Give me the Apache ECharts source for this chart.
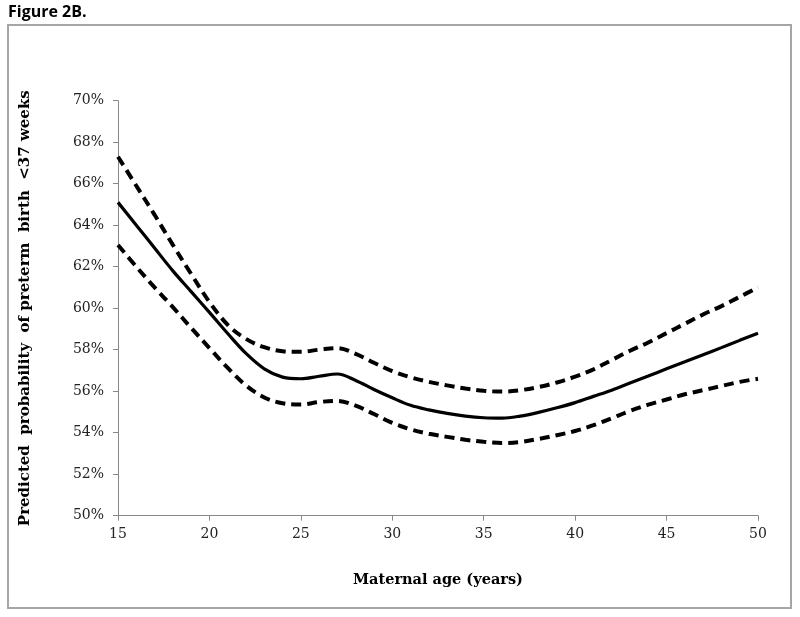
<!DOCTYPE html>
<html>
<head>
<meta charset="utf-8">
<script src="https://cdn.jsdelivr.net/npm/echarts@6/dist/echarts.min.js"></script>
<style>
html,body{margin:0;padding:0;background:#fff;}
#chart{width:800px;height:617px;}
</style>
</head>
<body>
<div id="chart"></div>
<script>
var ages = [15,16,17,18,19,20,21,22,23,24,25,26,27,28,29,30,31,32,33,34,35,36,37,38,39,40,41,42,43,44,45,46,47,48,49,50];
var predicted = [65.1,64.0,62.9,61.8,60.8,59.8,58.78,57.82,57.08,56.68,56.6,56.72,56.83,56.52,56.08,55.68,55.32,55.1,54.93,54.8,54.72,54.7,54.8,54.98,55.2,55.45,55.75,56.05,56.39,56.73,57.08,57.42,57.76,58.1,58.45,58.79];
var upperCI = [67.3,65.9,64.5,63.05,61.65,60.3,59.2,58.52,58.12,57.93,57.9,58.0,58.08,57.8,57.37,56.97,56.67,56.45,56.28,56.13,56.02,55.98,56.05,56.2,56.42,56.7,57.05,57.5,57.95,58.35,58.8,59.25,59.7,60.1,60.55,61.0];
var lowerCI = [63.05,62.0,61.0,60.05,59.05,58.08,57.12,56.28,55.7,55.42,55.36,55.48,55.53,55.3,54.9,54.47,54.16,53.95,53.8,53.66,53.56,53.5,53.55,53.7,53.88,54.08,54.36,54.7,55.05,55.35,55.6,55.85,56.05,56.25,56.45,56.6];
var xTicks = {min: 15, max: 50, interval: 5};
var yTicks = {min: 50, max: 70, interval: 2};

function pairs(vals){ return ages.map(function(a,i){ return [a, vals[i]]; }); }

var chart = echarts.init(document.getElementById('chart'), null, {renderer:'canvas'});
var serif = '"DejaVu Serif", "Liberation Serif", serif';
chart.setOption({
  animation: false,
  backgroundColor: '#fff',
  graphic: [
    {type:'rect', shape:{x:8, y:25, width:783, height:583}, style:{fill:'none', stroke:'#a6a6a6', lineWidth:2}, z:0},
    {type:'text', left:8, top:4, style:{text:'Figure 2B.', fontFamily:'"Open Sans", "Liberation Sans", sans-serif', fontWeight:'bold', fontSize:16, fill:'#000'}}
  ],
  grid: {left:118, right:42, top:100.7, bottom:101.3, containLabel:false},
  xAxis: {
    type:'value', min:xTicks.min, max:xTicks.max, interval:xTicks.interval,
    name:'Maternal age (years)', nameLocation:'middle', nameGap:57,
    nameTextStyle:{fontFamily:serif, fontWeight:'bold', fontSize:14.5, color:'#000'},
    axisLine:{lineStyle:{color:'#888', width:1}},
    axisTick:{show:true, length:5, lineStyle:{color:'#888'}},
    axisLabel:{fontFamily:serif, fontSize:14, color:'#222', margin:12},
    splitLine:{show:false}
  },
  yAxis: {
    type:'value', min:yTicks.min, max:yTicks.max, interval:yTicks.interval,
    name:'Predicted  probability  of preterm  birth  <37 weeks', nameLocation:'middle', nameGap:85, nameRotate:90,
    nameTextStyle:{fontFamily:serif, fontWeight:'bold', fontSize:15, color:'#000'},
    axisLine:{show:true, lineStyle:{color:'#888', width:1}},
    axisTick:{show:true, length:5, lineStyle:{color:'#888'}},
    axisLabel:{fontFamily:serif, fontSize:14, color:'#222', margin:14, formatter:'{value}%'},
    splitLine:{show:false}
  },
  series: [
    {type:'line', data:pairs(upperCI), smooth:0.35, symbol:'none', lineStyle:{color:'#000', width:4, type:[10,6]}},
    {type:'line', data:pairs(predicted), smooth:0.35, symbol:'none', lineStyle:{color:'#000', width:3.2, type:'solid'}},
    {type:'line', data:pairs(lowerCI), smooth:0.35, symbol:'none', lineStyle:{color:'#000', width:4, type:[10,6]}}
  ]
});
</script>
</body>
</html>
